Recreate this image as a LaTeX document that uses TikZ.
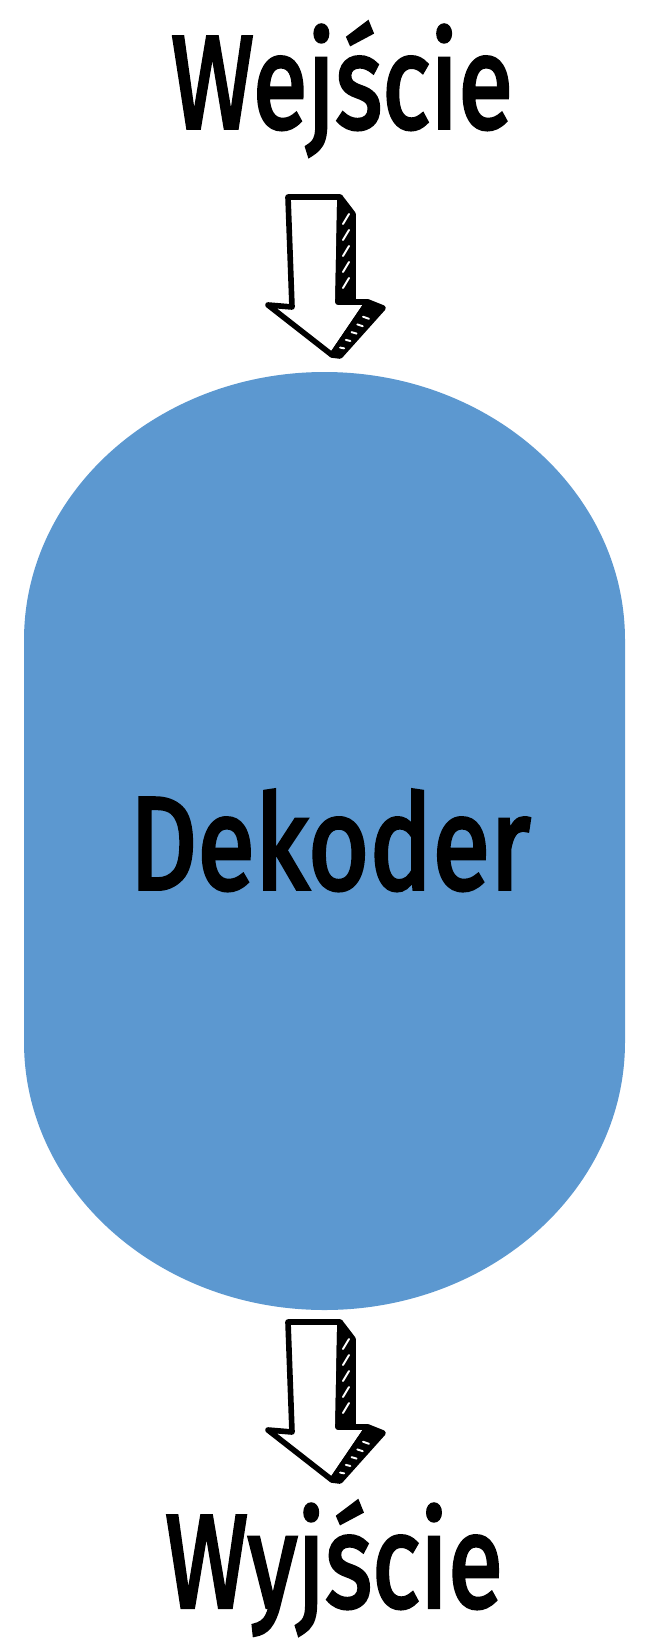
\documentclass[tikz,border=0pt]{standalone}
\usepackage{fontspec}
\setmainfont{Fira Sans}[FakeBold=3]
\usetikzlibrary{positioning}
\definecolor{decblue}{RGB}{92,152,208}
\tikzset{
	word/.style={font=\fontsize{75}{84}\selectfont, xscale=0.8, anchor=base, inner sep=0pt},
	outline/.style={line width=3.2pt, line join=round, line cap=round},
	hatch/.style={white, line width=1.1pt, line cap=round},
	fatarrow/.pic={
		\filldraw[outline, fill=white] (-44,-158) -- (8,-158) -- (6,-53) -- (36,-53) -- (0,0) -- (-64,-50) -- (-40,-48) -- cycle;
		\filldraw[outline, fill=black] (8,-158) -- (21,-141) -- (21,-55) -- (6,-53) -- cycle;
		\filldraw[outline, fill=black] (36,-53) -- (51,-47) -- (8,1) -- (0,0) -- cycle;
		\foreach \y in {-136,-120,...,-70}
			\draw[hatch] (11,\y+5) -- (17,\y-5);
		\foreach \t in {0.15,0.3,...,0.9}
			\draw[hatch] ({36*\t+0.3*(8+7*\t)},{-53*\t+0.3*(1+5*\t)}) -- ({36*\t+0.75*(8+7*\t)},{-53*\t+0.75*(1+5*\t)});
	}
}
\begin{document}
\begin{tikzpicture}[x=0.02cm, y=-0.02cm]
	\useasboundingbox (0,0) rectangle (656,1646);
	
	\fill[decblue] (24,640) arc[start angle=180, end angle=360, x radius=300.5, y radius=268]
		-- (625,1042) arc[start angle=0, end angle=180, x radius=300.5, y radius=268] -- cycle;
	
	\node[word, xscale=0.95] (0) at (342,128) {Wejście};
	\node[word] (1) at (330,889) {Dekoder};
	\node[word, xscale=0.95] (2) at (334,1607) {Wyjście};
	
	\pic at (332,355) {fatarrow};
	\pic at (332,1480) {fatarrow};
\end{tikzpicture}
\end{document}
